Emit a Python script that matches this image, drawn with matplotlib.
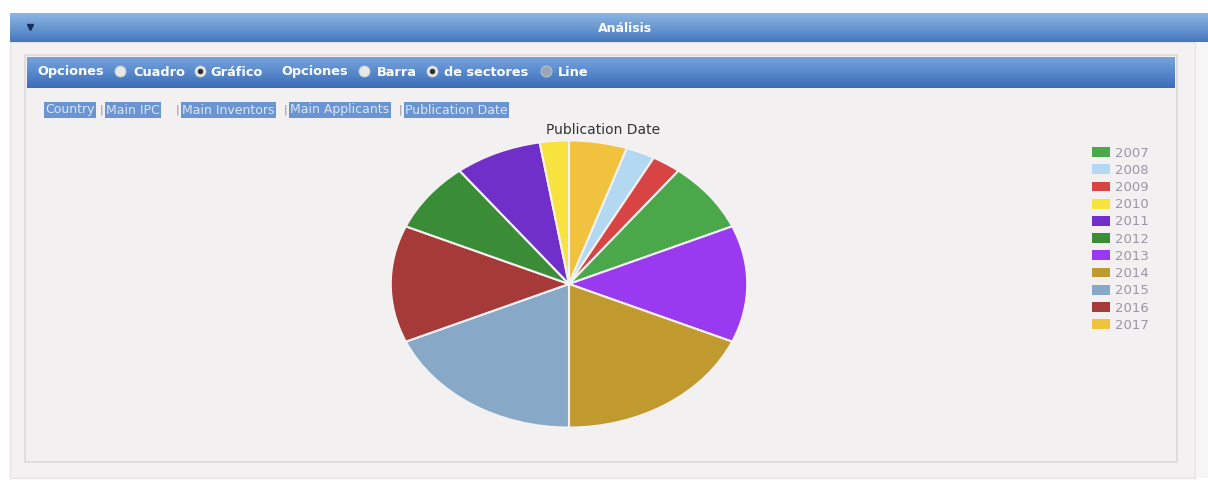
import matplotlib
matplotlib.use("Agg")
import matplotlib.pyplot as plt
import numpy as np
from matplotlib.patches import Rectangle

# ---- data ----
years = ["2007", "2008", "2009", "2010", "2011", "2012", "2013", "2014", "2015", "2016", "2017"]
counts = [3, 1, 1, 1, 3, 3, 5, 7, 7, 5, 2]
colors = ["#4aa84a", "#b2d8f2", "#d84444", "#f8e23e", "#6f2fc8", "#3a8c36",
          "#9a3af0", "#c09a2e", "#88a8c8", "#a63a38", "#f0c23e"]
# slice order clockwise from 12 o'clock
draw_order = ["2017", "2008", "2009", "2007", "2013", "2014", "2015", "2016", "2012", "2011", "2010"]
chart_title = "Publication Date"
header_title = "Análisis"
links = ["Country", "Main IPC", "Main Inventors", "Main Applicants", "Publication Date"]

W, H = 1208, 480
fig = plt.figure(figsize=(W / 100, H / 100), dpi=100)
fig.patch.set_facecolor("white")

bg = fig.add_axes([0, 0, 1, 1])
bg.set_xlim(0, W)
bg.set_ylim(H, 0)
bg.axis("off")


def gradient(ax, x0, x1, y0, y1, c_top, c_bot, z=1):
    ct = np.array(matplotlib.colors.to_rgb(c_top))
    cb = np.array(matplotlib.colors.to_rgb(c_bot))
    t = np.linspace(0, 1, 64)[:, None]
    img = (ct[None, :] * (1 - t) + cb[None, :] * t)[:, None, :]
    ax.imshow(img, extent=[x0, x1, y1, y0], aspect="auto", zorder=z, interpolation="bilinear")


# outer panel
bg.add_patch(Rectangle((10, 42), 1185, 436, facecolor="#f4f1f2", edgecolor="#e6e3e4", lw=1, zorder=0))
bg.add_patch(Rectangle((1196, 42), 12, 436, facecolor="#f7f6f6", edgecolor="none", zorder=0))
# header bar
gradient(bg, 10, 1208, 13, 42, "#8cb6e4", "#4778bd", z=1)
bg.text(625, 28, header_title, color="white", fontsize=9, fontweight="bold",
        ha="center", va="center", zorder=3)
bg.plot([30], [27], marker="v", color="#1c2c55", markersize=5, zorder=3)

# inner box
bg.add_patch(Rectangle((25, 55), 1152, 407, facecolor="#f3f0f1", edgecolor="#dcd9da", lw=1.2, zorder=1))
# options bar
gradient(bg, 27, 1175, 57, 88, "#76a4de", "#3b6cb8", z=2)

opt_items = [("Opciones", 37), ("Cuadro", 133), ("Gráfico", 210),
             ("Opciones", 281), ("Barra", 377), ("de sectores", 444), ("Line", 558)]
for label, tx in opt_items:
    bg.text(tx, 72, label, color="white", fontsize=9.3, fontweight="bold",
            ha="left", va="center", zorder=3)
radios = [(120, False, "#e8e8e8"), (200, True, "#e8e8e8"), (364, False, "#e8e8e8"),
          (432, True, "#e8e8e8"), (546, False, "#9aa6b8")]
for cx_, sel, fc in radios:
    bg.plot([cx_], [71], marker="o", markersize=8, color=fc, markeredgecolor="#c0c6d0",
            markeredgewidth=0.6, zorder=4)
    if sel:
        bg.plot([cx_], [71], marker="o", markersize=3, color="#333333", zorder=5)

# link tabs
link_x = [45, 106, 182, 290, 405]
for lab, lx in zip(links, link_x):
    bg.text(lx, 110, lab, color="#dbe6f6", fontsize=9, ha="left", va="center", zorder=3,
            bbox=dict(boxstyle="square,pad=0.12", facecolor="#6a95d2", edgecolor="none"))
for sx in [101, 177, 285, 400]:
    bg.text(sx, 110, "|", color="#8a8a8a", fontsize=8, ha="center", va="center", zorder=3)

# ---- pie ----
cx, cy, rx, ry = 569, 284, 180, 145
pax = fig.add_axes([(cx - rx) / W, 1 - (cy + ry) / H, 2 * rx / W, 2 * ry / H])
cmap = dict(zip(years, colors))
vmap = dict(zip(years, counts))
wedges, _ = pax.pie([vmap[y] for y in draw_order], colors=[cmap[y] for y in draw_order],
                    startangle=90, counterclock=False, radius=1,
                    wedgeprops=dict(edgecolor="#f4f1f2", linewidth=1.5))
pax.set_aspect("auto")
pax.set_xlim(-1.01, 1.01)
pax.set_ylim(-1.01, 1.01)
pax.axis("off")
pax.patch.set_alpha(0)

bg.text(603, 130, chart_title, fontsize=10, color="#333333", ha="center", va="center", zorder=3)

# legend in year order
handles = [Rectangle((0, 0), 1, 1, facecolor=cmap[y], edgecolor="none") for y in years]
leg = fig.legend(handles, years, loc="upper left", bbox_to_anchor=(1085 / W, 1 - 140 / H),
                 frameon=False, fontsize=9.5, labelcolor="#9a96a6", handlelength=1.36,
                 handleheight=0.76, handletextpad=0.4, labelspacing=0.32, borderpad=0)

fig.savefig("out.png", dpi=100, facecolor="white")
